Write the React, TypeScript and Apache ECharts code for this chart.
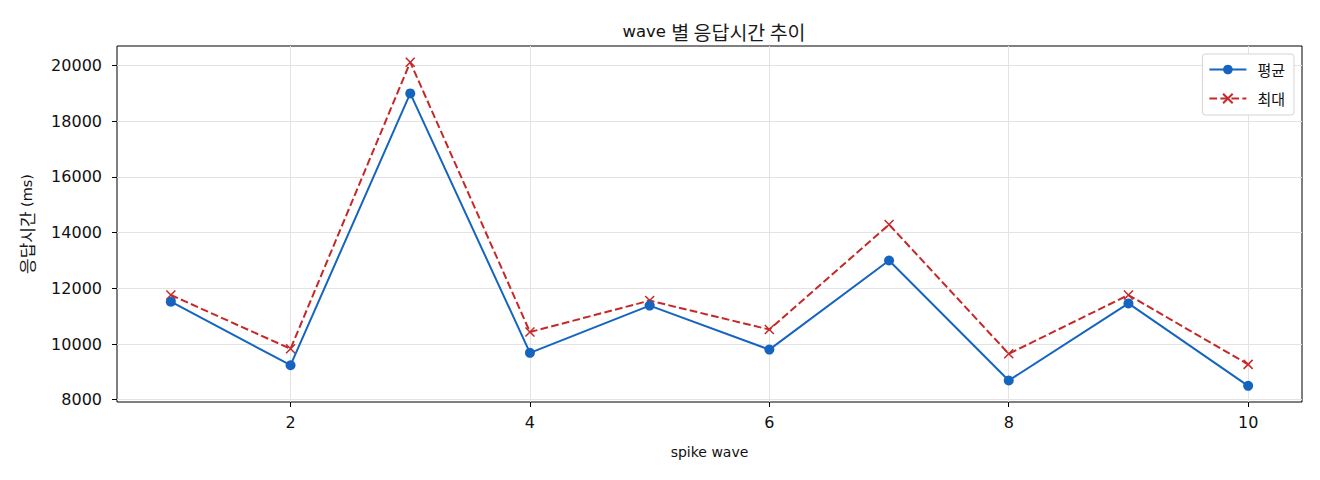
import React, { useRef, useEffect } from 'react';
import * as echarts from 'echarts';

const waves = [1, 2, 3, 4, 5, 6, 7, 8, 9, 10];
const avgMs = [11520, 9240, 19000, 9685, 11380, 9800, 13000, 8690, 11460, 8500];
const maxMs = [11760, 9830, 20120, 10430, 11560, 10520, 14290, 9650, 11760, 9270];
const xTicks = [2, 4, 6, 8, 10];
const yTicks = [8000, 10000, 12000, 14000, 16000, 18000, 20000];

const LATIN = '"DejaVu Sans", sans-serif';
const KR = '"Noto Sans CJK KR", sans-serif';
const FONT = '"DejaVu Sans", "Noto Sans CJK KR", sans-serif';
const BLUE = '#1565c0';
const RED = '#c62828';
const CROSS = 'path://M0,0L10,10M10,0L0,10';

const App: React.FC = () => {
  const chartRef = useRef<HTMLDivElement>(null);

  useEffect(() => {
    document.body.style.margin = '0';
    if (!chartRef.current) return;
    const chart = echarts.init(chartRef.current, null, { renderer: 'svg' });

    const option: echarts.EChartsOption = {
      animation: false,
      textStyle: { fontFamily: FONT },
      title: {
        text: '{a|wave }{k|별 응답시간 추이}',
        left: 709,
        textAlign: 'center',
        top: 17,
        textStyle: {
          fontFamily: FONT,
          fontSize: 16,
          fontWeight: 'normal',
          color: '#111',
          rich: {
            a: { fontFamily: LATIN, fontSize: 16.5, color: '#111' },
            k: { fontFamily: KR, fontSize: 19.5, color: '#1a1a1a' },
          },
        },
      },
      legend: {
        right: 26,
        top: 54,
        orient: 'vertical',
        itemWidth: 37,
        itemHeight: 12,
        itemGap: 14,
        padding: [8, 9, 9, 6],
        backgroundColor: '#fff',
        borderColor: '#d4d4d4',
        borderWidth: 1,
        borderRadius: 3,
        textStyle: { fontFamily: KR, fontSize: 15, color: '#111', padding: [0, 0, 0, 6] },
        data: ['평균', '최대'],
      },
      grid: {
        left: 117,
        top: 46,
        width: 1185,
        height: 356,
        show: true,
        borderColor: '#000',
        borderWidth: 1,
      },
      xAxis: {
        type: 'value',
        min: 0.55,
        max: 10.45,
        name: 'spike wave',
        nameLocation: 'middle',
        nameGap: 43,
        nameTextStyle: { fontFamily: LATIN, fontSize: 14, color: '#111' },
        axisLine: { show: false },
        axisTick: { show: true, length: 5, lineStyle: { color: '#000' }, customValues: xTicks },
        axisLabel: { fontFamily: LATIN, fontSize: 16, color: '#111', margin: 12, customValues: xTicks },
        splitLine: { show: true, lineStyle: { color: '#e3e3e3', width: 1 } },
      },
      yAxis: {
        type: 'value',
        min: 7919,
        max: 20701,
        name: '{k|응답시간} {a|(ms)}',
        nameLocation: 'middle',
        nameGap: 82,
        nameTextStyle: {
          fontFamily: FONT,
          fontSize: 14,
          color: '#111',
          rich: {
            a: { fontFamily: LATIN, fontSize: 14.5, color: '#111' },
            k: { fontFamily: KR, fontSize: 17, color: '#1a1a1a' },
          },
        },
        axisLine: { show: false },
        axisTick: { show: true, length: 5, lineStyle: { color: '#000' }, customValues: yTicks },
        axisLabel: {
          fontFamily: LATIN,
          fontSize: 16,
          color: '#111',
          margin: 15,
          customValues: yTicks,
          formatter: (v: number) => String(v),
        },
        splitLine: { show: true, lineStyle: { color: '#e3e3e3', width: 1 } },
      },
      series: [
        {
          name: '평균',
          type: 'line',
          data: waves.map((w, i) => [w, avgMs[i]]),
          symbol: 'circle',
          symbolSize: 10,
          lineStyle: { color: BLUE, width: 2 },
          itemStyle: { color: BLUE },
          z: 3,
        },
        {
          name: '최대',
          type: 'line',
          data: waves.map((w, i) => [w, maxMs[i]]),
          symbol: CROSS,
          symbolSize: 9,
          lineStyle: { color: RED, width: 2, type: [7.7, 3.3] },
          itemStyle: { color: 'none', borderColor: RED, borderWidth: 1.5 },
          z: 2,
        },
      ],
    };

    chart.setOption(option);
    return () => {
      chart.dispose();
    };
  }, []);

  return <div ref={chartRef} style={{ width: 1320, height: 480 }} />;
};

export default App;
